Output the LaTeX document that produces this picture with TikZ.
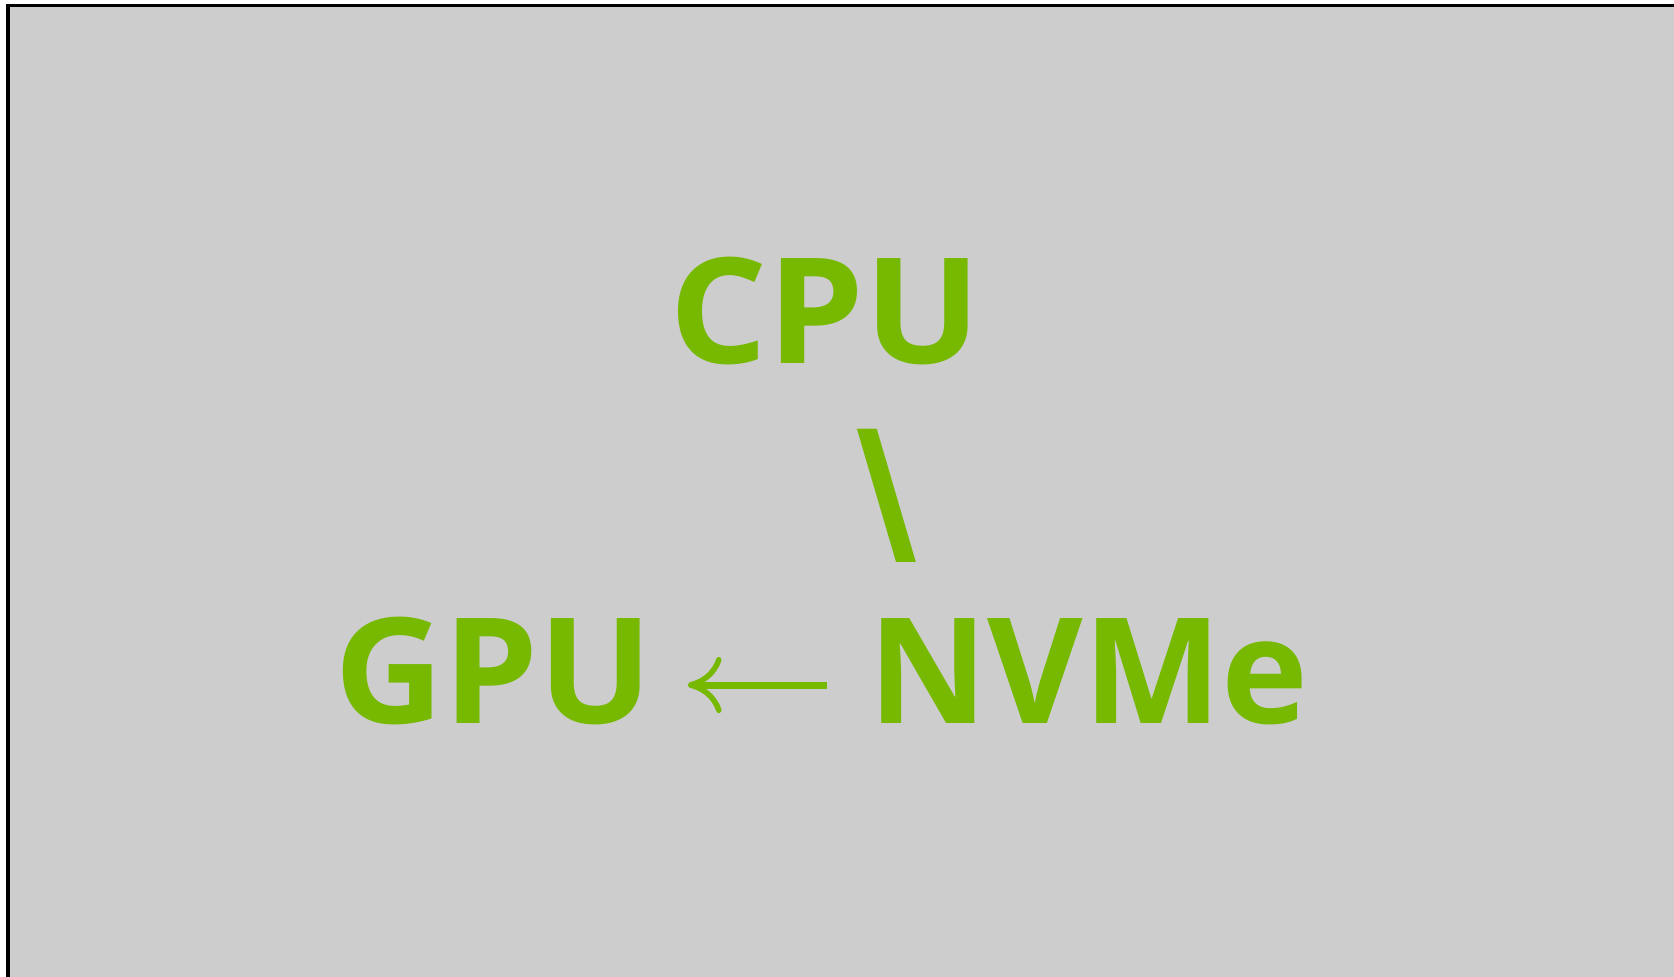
\documentclass[tikz,border=0pt]{standalone}
\usepackage{fontspec}
\setmainfont{Open Sans}
\usetikzlibrary{arrows.meta}
\definecolor{nvgreen}{HTML}{76B900}
\definecolor{panel}{HTML}{CDCDCD}
\tikzset{
  lbl/.style={inner sep=0pt, anchor=base west, text=nvgreen,
    font=\fontsize{147}{147}\selectfont\bfseries},
  link/.style={draw=nvgreen, line width=7pt,
    -{Computer Modern Rightarrow[length=34pt,width=56pt,line width=5.5pt]}},
}
\begin{document}
\begin{tikzpicture}[x=1pt,y=-1pt]
  \useasboundingbox (0,0) rectangle (1674,977);
  \fill[white] (0,0) rectangle (1674,977);
  \begin{scope}
    \clip (0,0) rectangle (1674,977);
    \draw[line width=3.5pt, fill=panel] (8,5.5) rectangle (1700,1010);
  \end{scope}
  % labels
  \node[lbl, xscale=1.05] (cpu) at (669,363) {CPU};
  \node[lbl, yscale=1.27] (sep) at (856,562) {\textbackslash};
  \node[lbl, xscale=1.03] (gpu) at (334,723) {GPU};
  \node[lbl] (nvme) at (868,723) {NVMe};
  % link from NVMe to GPU
  \draw[link, shorten >=34pt, shorten <=41pt]
    ([yshift=38pt]nvme.base west) -- ([yshift=38pt]gpu.base east);
\end{tikzpicture}
\end{document}
